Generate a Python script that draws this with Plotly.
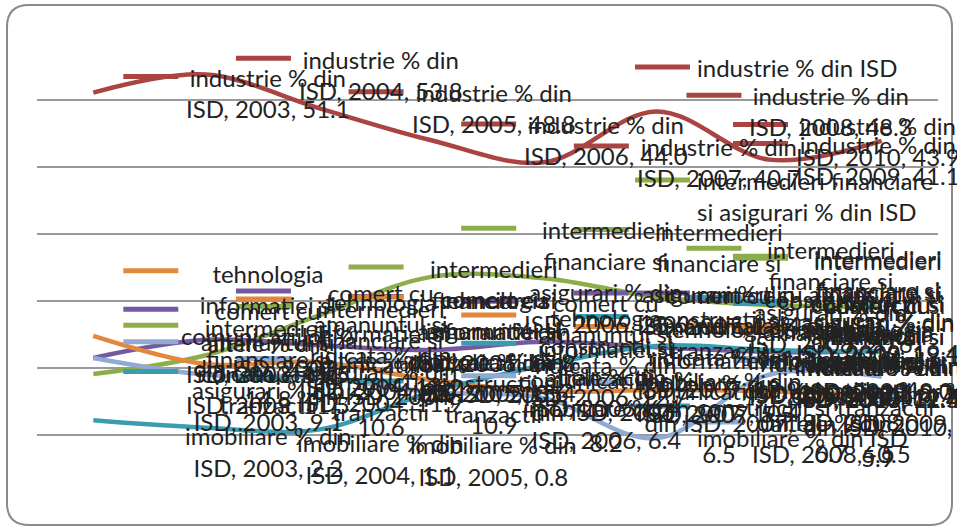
import plotly.graph_objects as go

years = [2003, 2004, 2005, 2006, 2007, 2008, 2009, 2010]

industrie = [51.1, 53.8, 48.8, 44.0, 40.7, 48.3, 41.1, 43.9]
intermedieri = [9.1, 11.9, 17.8, 23.6, 23.4, 20.6, 19.4, 19.1]
comert = [11.5, 14.2, 13.4, 12.7, 13.9, 13.1, 12.4, 12.5]
tehnologia = [14.8, 10.6, 10.9, 8.2, 6.5, 6.7, 6.5, 5.9]
constructii = [2.2, 1.1, 0.8, 6.4, 10.4, 13.3, 12.7, 12.4]
altele = [11.5, 9.0, 8.6, 6.4, 5.5, -0.5, 9.0, 8.7]

series_names = [
    "industrie % din ISD",
    "intermedieri financiare si asigurari % din ISD",
    "comert cu amanuntul si ridicata % din ISD",
    "tehnologia informatiei si comunicatiilor % din ISD",
    "constructii si tranzactii imobiliare % din ISD",
    "altele % din ISD",
]
series_values = [industrie, intermedieri, comert, tehnologia, constructii, altele]
series_colors = ["#A94442", "#8BAE4B", "#7559A0", "#E2873B", "#3A9CB1", "#90AAD4"]

# wrapped label lines (name part); the tail "ISD, year, value" is appended
label_heads = [
    ["industrie % din"],
    ["intermedieri", "financiare si", "asigurari % din"],
    ["comert cu", "amanuntul si", "ridicata % din"],
    ["tehnologia", "informatiei si", "comunicatiilor %"],
    ["constructii si", "tranzactii", "imobiliare % din"],
    ["altele % din"],
]
label_tail_split = [False, False, False, True, False, False]

legend_items = [
    (0, ["industrie % din ISD"]),
    (1, ["intermedieri financiare", "si asigurari % din ISD"]),
    (2, ["comert cu amanuntul si", "ridicata % din ISD"]),
    (4, ["constructii si tranzactii", "imobiliare % din ISD"]),
]

W, H = 957, 528
PL, PR, PT, PB = 37, 938, 33, 502
YMIN, YMAX = -10, 60
FONT = "Lato"
FS = 24
LH = 32.5
TXT = "#222222"

def xpx(i):
    return PL + (i + 0.5) * (PR - PL) / len(years)

def px2paper_x(p):
    return (p - PL) / (PR - PL)

def px2paper_y(p):
    return (PB - p) / (PB - PT)

fig = go.Figure()
for name, vals, col in zip(series_names, series_values, series_colors):
    fig.add_trace(go.Scatter(
        x=years, y=vals, mode="lines", name=name,
        line=dict(color=col, width=4.5, shape="spline", smoothing=1.0),
        hoverinfo="skip", showlegend=False))

shapes = []
annotations = []

for s, (vals, col) in enumerate(zip(series_values, series_colors)):
    for i, (yr, v) in enumerate(zip(years, vals)):
        if label_tail_split[s]:
            lines = label_heads[s] + [f"din ISD, {yr},", f"{v}"]
        else:
            lines = label_heads[s] + [f"ISD, {yr}, {v}"]
        n = len(lines)
        p = xpx(i)
        cx = min(p + 175, W - 79)
        dx = cx - p
        dy_first = (n - 1) / 2 * LH
        annotations.append(dict(
            x=yr, y=v, xref="x", yref="y", text="<br>".join(lines),
            showarrow=False, xanchor="center", yanchor="middle",
            xshift=dx, align="center",
            font=dict(family=FONT, size=FS, color=TXT)))
        shapes.append(dict(
            type="line", xref="x", yref="y",
            xsizemode="pixel", ysizemode="pixel",
            xanchor=yr, yanchor=v,
            x0=dx - 145, x1=dx - 90, y0=dy_first, y1=dy_first,
            line=dict(color=col, width=5)))

# legend drawn over the plot (as in the original)
ly = 67
for s, lines in legend_items:
    col = series_colors[s]
    shapes.append(dict(type="line", xref="paper", yref="paper",
                       x0=px2paper_x(635), x1=px2paper_x(690),
                       y0=px2paper_y(ly), y1=px2paper_y(ly),
                       line=dict(color=col, width=5)))
    annotations.append(dict(
        x=px2paper_x(695), y=px2paper_y(ly - LH / 2), xref="paper", yref="paper",
        text="<br>".join(lines), showarrow=False, xanchor="left", yanchor="top",
        align="left", font=dict(family=FONT, size=FS, color=TXT)))
    ly += 113

# rounded chart border
x0, x1, y0, y1, r = 7, 952, 5, 525, 22
def P(x, y):
    return f"{px2paper_x(x):.5f},{px2paper_y(y):.5f}"
path = (f"M {P(x0 + r, y0)} L {P(x1 - r, y0)} Q {P(x1, y0)} {P(x1, y0 + r)} "
        f"L {P(x1, y1 - r)} Q {P(x1, y1)} {P(x1 - r, y1)} L {P(x0 + r, y1)} "
        f"Q {P(x0, y1)} {P(x0, y1 - r)} L {P(x0, y0 + r)} Q {P(x0, y0)} {P(x0 + r, y0)} Z")
shapes.insert(0, dict(type="path", xref="paper", yref="paper", path=path,
                      line=dict(color="#8a8a8a", width=2), layer="below"))

fig.update_layout(
    width=W, height=H, autosize=False,
    margin=dict(l=PL, r=W - PR, t=PT, b=H - PB, pad=0),
    paper_bgcolor="white", plot_bgcolor="white",
    showlegend=False,
    shapes=shapes, annotations=annotations,
    xaxis=dict(range=[years[0] - 0.5, years[-1] + 0.5], showgrid=False,
               zeroline=False, showticklabels=False, ticks="", showline=False),
    yaxis=dict(range=[YMIN, YMAX], dtick=10, showgrid=True, gridcolor="#9a9a9a",
               gridwidth=1.5, zeroline=False, showticklabels=False, ticks="",
               showline=False),
)

fig.write_html("out.html", config={"displayModeBar": False},
               post_script="document.body.style.margin='0px';document.body.style.overflow='hidden';")
